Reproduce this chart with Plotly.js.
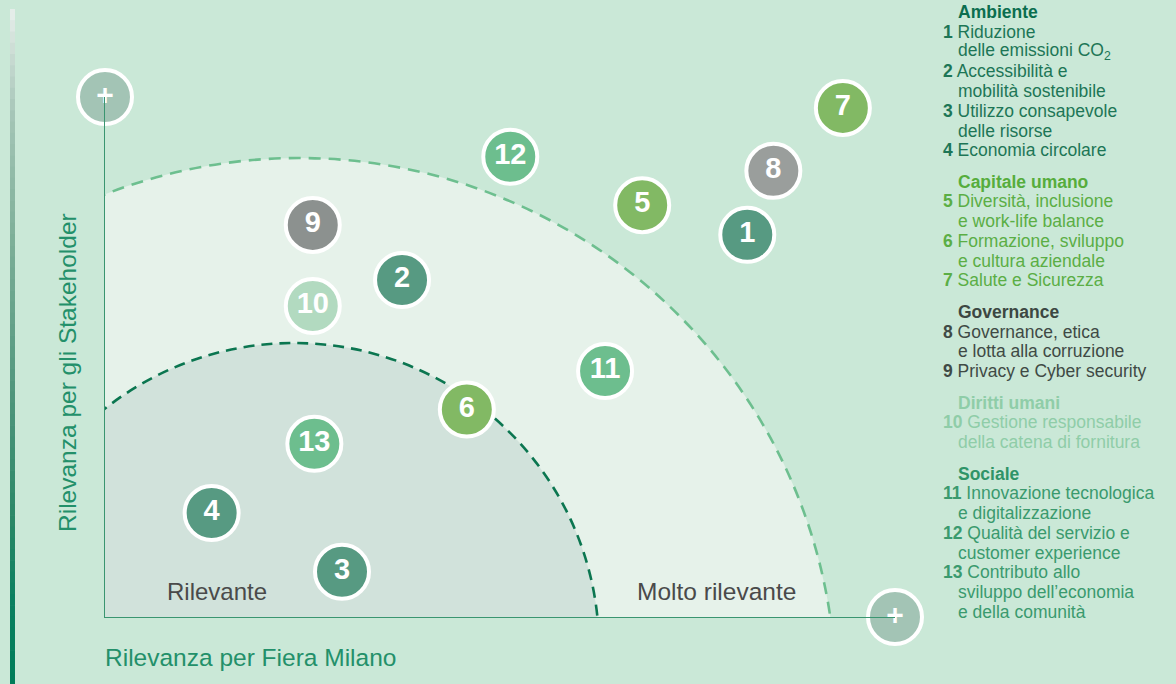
<!DOCTYPE html>
<html>
<head>
<meta charset="utf-8">
<script src="https://cdn.plot.ly/plotly-3.0.1.min.js"></script>
<style>
  html, body { margin: 0; padding: 0; background: #cae8d7; }
  #chart { width: 1176px; height: 684px; }
</style>
</head>
<body>
<div id="chart"></div>
<script>
// ---- Data (0-100 relevance scales) ----
const topicIds = ["1","2","3","4","5","6","7","8","9","10","11","12","13"];
const relevanceFiera = [81.3, 37.6, 30.0, 13.5, 68.0, 45.8, 93.4, 84.6, 26.3, 26.3, 63.3, 51.3, 26.5];
const relevanceStakeholder = [73.5, 64.8, 8.7, 20.0, 79.2, 39.9, 97.9, 85.8, 75.4, 59.8, 47.3, 88.5, 33.3];
const topicGroups = ["Ambiente","Ambiente","Ambiente","Ambiente","Capitale umano","Capitale umano","Capitale umano","Governance","Governance","Diritti umani","Sociale","Sociale","Sociale"];

const legendGroups = ["Ambiente", "Capitale umano", "Governance", "Diritti umani", "Sociale"];
const legendItems = [
  [["1", "Riduzione", "delle emissioni CO<sub>2</sub>"], ["2", "Accessibilità e", "mobilità sostenibile"], ["3", "Utilizzo consapevole", "delle risorse"], ["4", "Economia circolare"]],
  [["5", "Diversità, inclusione", "e work-life balance"], ["6", "Formazione, sviluppo", "e cultura aziendale"], ["7", "Salute e Sicurezza"]],
  [["8", "Governance, etica", "e lotta alla corruzione"], ["9", "Privacy e Cyber security"]],
  [["10", "Gestione responsabile", "della catena di fornitura"]],
  [["11", "Innovazione tecnologica", "e digitalizzazione"], ["12", "Qualità del servizio e", "customer experience"], ["13", "Contributo allo", "sviluppo dell’economia", "e della comunità"]]
];

const xTitle = "Rilevanza per Fiera Milano";
const yTitle = "Rilevanza per gli Stakeholder";
const zoneLabels = ["Rilevante", "Molto rilevante"];

// ---- Styles ----
const bubbleColors = {
  "1": "#579a82", "2": "#579a82", "3": "#579a82", "4": "#579a82",
  "5": "#82b964", "6": "#82b964", "7": "#82b964",
  "8": "#9a9e9c", "9": "#8c918f",
  "10": "#b2dac0",
  "11": "#6dbe8e", "12": "#6dbe8e", "13": "#6dbe8e"
};
const groupHeaderColors = ["#0b6e4f", "#56ad3c", "#3c4742", "#8fcda8", "#2f9468"];
const groupItemColors = ["#1d7656", "#5bae45", "#3f4a45", "#8fcda8", "#3a9a6e"];

// pixel helpers (plot area: x 105..895, y 97..617)
const L = 105, R = 895, T = 97, B = 617;
const px2paperX = p => (p - L) / (R - L);
const px2paperY = p => (B - p) / (B - T);
const px2dataX = p => (p - L) / (R - L) * 100;
const px2dataY = p => (B - p) / (B - T) * 100;

const FONT = "'Liberation Sans', Arial, Helvetica, sans-serif";

const traces = [
  {
    type: "scatter",
    mode: "markers+text",
    x: relevanceFiera,
    y: relevanceStakeholder,
    text: topicIds,
    customdata: topicGroups,
    textposition: "middle center",
    textfont: { family: FONT, size: 29, color: "#ffffff", weight: "bold" },
    marker: {
      size: 54,
      color: topicIds.map(id => bubbleColors[id]),
      line: { color: "#ffffff", width: 4 },
      opacity: 1
    },
    cliponaxis: false,
    hovertemplate: "%{text} (%{customdata})<br>Fiera: %{x}<br>Stakeholder: %{y}<extra></extra>",
    showlegend: false
  },
  {
    type: "scatter",
    mode: "markers+text",
    x: [0, 100],
    y: [100, 0],
    text: ["+", "+"],
    textposition: "middle center",
    textfont: { family: FONT, size: 30, color: "#ffffff", weight: "bold" },
    marker: { size: 54, color: "#a3c4b5", line: { color: "#ffffff", width: 4 } },
    cliponaxis: false,
    hoverinfo: "skip",
    showlegend: false
  }
];

// Zones (circles clipped by the plot area)
function circleShape(cx, cy, r, fill, lineColor, dash) {
  return {
    type: "circle", xref: "x", yref: "y", layer: "below",
    x0: px2dataX(cx - r), x1: px2dataX(cx + r),
    y0: px2dataY(cy + r), y1: px2dataY(cy - r),
    fillcolor: fill,
    line: { color: lineColor, width: 2.6, dash: dash }
  };
}
const shapes = [
  circleShape(299, 695, 537, "#e6f2ea", "#6dbf8f", "12px,8px"),
  circleShape(294, 648, 305, "#d1e2db", "#0b7650", "11px,7px")
];

// Left gradient bar
const barStops = [
  [9, [232, 240, 236]], [60, [198, 217, 208]], [120, [163, 196, 181]], [250, [122, 173, 150]],
  [400, [78, 149, 123]], [520, [42, 135, 102]], [600, [10, 128, 96]], [684, [0, 124, 88]]
];
function barColor(p) {
  for (let i = 0; i < barStops.length - 1; i++) {
    const [p0, c0] = barStops[i], [p1, c1] = barStops[i + 1];
    if (p <= p1) {
      const t = (p - p0) / (p1 - p0);
      const c = c0.map((v, k) => Math.round(v + (c1[k] - v) * t));
      return `rgb(${c[0]},${c[1]},${c[2]})`;
    }
  }
  const c = barStops[barStops.length - 1][1];
  return `rgb(${c[0]},${c[1]},${c[2]})`;
}
const nSeg = 60;
for (let i = 0; i < nSeg; i++) {
  const p0 = 9 + (684 - 9) * i / nSeg;
  const p1 = 9 + (684 - 9) * (i + 1) / nSeg + 0.6;
  shapes.push({
    type: "rect", xref: "paper", yref: "paper", layer: "above",
    x0: px2paperX(10), x1: px2paperX(15),
    y0: px2paperY(p1), y1: px2paperY(p0),
    fillcolor: barColor((p0 + p1) / 2), line: { width: 0 }
  });
}

// Annotations
const annotations = [
  {
    xref: "paper", yref: "paper", x: px2paperX(103), y: px2paperY(657),
    xanchor: "left", yanchor: "middle", showarrow: false,
    text: xTitle, font: { family: FONT, size: 24.5, color: "#23906a" }
  },
  {
    xref: "paper", yref: "paper", x: px2paperX(67), y: px2paperY(373),
    xanchor: "center", yanchor: "middle", showarrow: false, textangle: -90,
    text: yTitle, font: { family: FONT, size: 24.5, color: "#23906a" }
  },
  {
    xref: "paper", yref: "paper", x: px2paperX(217), y: px2paperY(591),
    xanchor: "center", yanchor: "middle", showarrow: false,
    text: zoneLabels[0], font: { family: FONT, size: 24, color: "#4a4a4a" }
  },
  {
    xref: "paper", yref: "paper", x: px2paperX(716), y: px2paperY(591),
    xanchor: "center", yanchor: "middle", showarrow: false,
    text: zoneLabels[1], font: { family: FONT, size: 24.5, color: "#4a4a4a" }
  }
];

// Legend block (text lines)
const lineH = 19.75;
const groupGap = 11.7;
let yCursor = 12;
const numX = 941, textX = 956;
legendGroups.forEach((g, gi) => {
  annotations.push({
    xref: "paper", yref: "paper", x: px2paperX(textX), y: px2paperY(yCursor),
    xanchor: "left", yanchor: "middle", showarrow: false,
    text: "<b>" + g + "</b>", font: { family: FONT, size: 17.5, color: groupHeaderColors[gi] }
  });
  yCursor += lineH;
  legendItems[gi].forEach(item => {
    item.slice(1).forEach((line, li) => {
      const txt = li === 0 ? "<b>" + item[0] + "</b> " + line : line;
      annotations.push({
        xref: "paper", yref: "paper",
        x: px2paperX(li === 0 ? numX : textX), y: px2paperY(yCursor),
        xanchor: "left", yanchor: "middle", showarrow: false,
        text: txt, font: { family: FONT, size: 17.5, color: groupItemColors[gi] }
      });
      yCursor += lineH;
    });
  });
  yCursor += groupGap;
});

const layout = {
  width: 1176, height: 684,
  margin: { l: L, r: 1176 - R, t: T, b: 684 - B, pad: 0 },
  paper_bgcolor: "#cae8d7",
  plot_bgcolor: "#cae8d7",
  xaxis: {
    range: [0, 100], showgrid: false, zeroline: false, showticklabels: false, ticks: "",
    showline: true, linecolor: "#3a9570", linewidth: 1.3, fixedrange: true
  },
  yaxis: {
    range: [0, 100], showgrid: false, zeroline: false, showticklabels: false, ticks: "",
    showline: true, linecolor: "#3a9570", linewidth: 1.3, fixedrange: true
  },
  shapes: shapes,
  annotations: annotations,
  showlegend: false,
  hovermode: "closest"
};

Plotly.newPlot("chart", traces, layout, { displayModeBar: false, staticPlot: false });
</script>
</body>
</html>
